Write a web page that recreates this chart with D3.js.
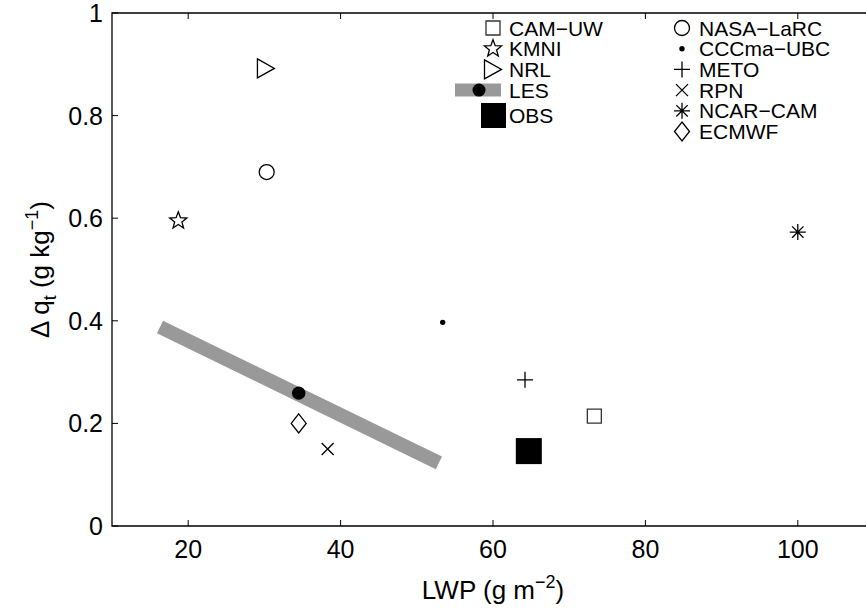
<!DOCTYPE html>
<html>
<head>
<meta charset="utf-8">
<script src="https://cdn.jsdelivr.net/npm/d3@7"></script>
<style>
  body { margin: 0; background: #fff; }
  text { font-family: "Liberation Sans", Arial, Helvetica, sans-serif; fill: #000; }
</style>
</head>
<body>
<div id="vis"></div>
<script>
const FRAME_WIDTH = 866;
const FRAME_HEIGHT = 608;
const MARGINS = {left: 112, right: -8, top: 13, bottom: 82};

// model data
const models = ['CAM\u2212UW', 'KMNI', 'NRL', 'NASA\u2212LaRC', 'CCCma\u2212UBC', 'METO', 'RPN', 'NCAR\u2212CAM', 'ECMWF'];
const symbols = ['square', 'star', 'triangle', 'circle', 'dot', 'plus', 'cross', 'asterisk', 'diamond'];
const lwp = [73.3, 18.7, 30.2, 30.3, 53.4, 64.2, 38.3, 100, 34.5];
const dqt = [0.214, 0.595, 0.892, 0.69, 0.397, 0.285, 0.15, 0.573, 0.20];

// LES range and mean, observations
const lesLwp = [16.3, 52.9];
const lesDqt = [0.388, 0.123];
const lesMean = [34.5, 0.259];
const obs = [64.7, 0.146];

const xTicks = [20, 40, 60, 80, 100];
const yTicks = [0, 0.2, 0.4, 0.6, 0.8, 1];

// legend columns
const legendLeft = ['CAM\u2212UW', 'KMNI', 'NRL'];
const legendRight = ['NASA\u2212LaRC', 'CCCma\u2212UBC', 'METO', 'RPN', 'NCAR\u2212CAM', 'ECMWF'];

const svg = d3.select('#vis')
  .append('svg')
    .attr('width', FRAME_WIDTH)
    .attr('height', FRAME_HEIGHT);

const X_SCALE = d3.scaleLinear().domain([10, 110]).range([MARGINS.left, FRAME_WIDTH - MARGINS.right]);
const Y_SCALE = d3.scaleLinear().domain([0, 1]).range([FRAME_HEIGHT - MARGINS.bottom, MARGINS.top]);

// marker paths centred on 0,0
function markerPath(sym) {
  const p = d3.path();
  if (sym === 'square') {
    p.rect(-7, -7, 14, 14);
  } else if (sym === 'triangle') {
    p.moveTo(-8.5, -9.5); p.lineTo(8.5, 0); p.lineTo(-8.5, 9.5); p.closePath();
  } else if (sym === 'circle') {
    p.arc(0, 0, 7.5, 0, 2 * Math.PI); p.closePath();
  } else if (sym === 'diamond') {
    p.moveTo(0, -9.5); p.lineTo(7.5, 0); p.lineTo(0, 9.5); p.lineTo(-7.5, 0); p.closePath();
  } else if (sym === 'plus') {
    p.moveTo(-8, 0); p.lineTo(8, 0); p.moveTo(0, -8); p.lineTo(0, 8);
  } else if (sym === 'cross') {
    p.moveTo(-6, -6); p.lineTo(6, 6); p.moveTo(-6, 6); p.lineTo(6, -6);
  } else if (sym === 'asterisk') {
    p.moveTo(-8, 0); p.lineTo(8, 0); p.moveTo(0, -8); p.lineTo(0, 8);
    p.moveTo(-5.7, -5.7); p.lineTo(5.7, 5.7); p.moveTo(-5.7, 5.7); p.lineTo(5.7, -5.7);
  } else if (sym === 'star') {
    const ro = 9, ri = 3.8;
    for (let i = 0; i < 10; i++) {
      const r = i % 2 === 0 ? ro : ri;
      const a = -Math.PI / 2 + i * Math.PI / 5;
      if (i === 0) p.moveTo(r * Math.cos(a), r * Math.sin(a));
      else p.lineTo(r * Math.cos(a), r * Math.sin(a));
    }
    p.closePath();
  }
  return p.toString();
}

function drawMarker(g, sym, x, y) {
  if (sym === 'dot') {
    g.append('circle').attr('cx', x).attr('cy', y).attr('r', 2.7).attr('fill', '#000');
    return;
  }
  g.append('path')
    .attr('d', markerPath(sym))
    .attr('transform', 'translate(' + x + ',' + y + ')')
    .attr('fill', 'none')
    .attr('stroke', sym === 'square' ? '#333' : '#000')
    .attr('stroke-width', 1.3);
}

// axes box
const x0 = X_SCALE.range()[0], x1 = X_SCALE.range()[1];
const y0 = Y_SCALE.range()[0], y1 = Y_SCALE.range()[1];
svg.append('path')
  .attr('d', `M${x1},${y1}H${x0}V${y0}H${x1}`)
  .attr('fill', 'none').attr('stroke', '#000').attr('stroke-width', 1.3);

// inward ticks, bottom and top
xTicks.forEach(t => {
  const x = X_SCALE(t);
  svg.append('line').attr('x1', x).attr('x2', x).attr('y1', y0).attr('y2', y0 - 6)
    .attr('stroke', '#000').attr('stroke-width', 1);
  svg.append('line').attr('x1', x).attr('x2', x).attr('y1', y1).attr('y2', y1 + 6)
    .attr('stroke', '#000').attr('stroke-width', 1);
  svg.append('text')
    .attr('x', x).attr('y', y0 + 32)
    .attr('text-anchor', 'middle')
    .attr('font-size', '25px')
    .text(t);
});

yTicks.forEach(t => {
  const y = Y_SCALE(t);
  svg.append('line').attr('x1', x0).attr('x2', x0 + 6).attr('y1', y).attr('y2', y)
    .attr('stroke', '#000').attr('stroke-width', 1);
  svg.append('text')
    .attr('x', x0 - 9).attr('y', y + 9)
    .attr('text-anchor', 'end')
    .attr('font-size', '25px')
    .text(t);
});

// x axis label
const xl = svg.append('text')
  .attr('x', X_SCALE(60)).attr('y', FRAME_HEIGHT - 9)
  .attr('text-anchor', 'middle')
  .attr('font-size', '26px');
xl.append('tspan').text('LWP (g m');
xl.append('tspan').attr('dy', -11).attr('font-size', '18px').text('\u22122');
xl.append('tspan').attr('dy', 11).text(')');

// y axis label
const yl = svg.append('text')
  .attr('transform', 'translate(49,' + Y_SCALE(0.5) + ') rotate(-90)')
  .attr('text-anchor', 'middle')
  .attr('font-size', '26px');
yl.append('tspan').text('\u0394 q');
yl.append('tspan').attr('dy', 7).attr('font-size', '18px').text('t');
yl.append('tspan').attr('dy', -7).text(' (g kg');
yl.append('tspan').attr('dy', -11).attr('font-size', '18px').text('\u22121');
yl.append('tspan').attr('dy', 11).text(')');

// LES range band
svg.append('line')
  .attr('x1', X_SCALE(lesLwp[0])).attr('y1', Y_SCALE(lesDqt[0]))
  .attr('x2', X_SCALE(lesLwp[1])).attr('y2', Y_SCALE(lesDqt[1]))
  .attr('stroke', '#999').attr('stroke-width', 14);
svg.append('circle')
  .attr('cx', X_SCALE(lesMean[0])).attr('cy', Y_SCALE(lesMean[1]))
  .attr('r', 6.7).attr('fill', '#000');

// OBS
svg.append('rect')
  .attr('x', X_SCALE(obs[0]) - 13).attr('y', Y_SCALE(obs[1]) - 13)
  .attr('width', 26).attr('height', 26).attr('fill', '#000');

// model markers
const marks = svg.append('g');
models.forEach((m, i) => drawMarker(marks, symbols[i], X_SCALE(lwp[i]), Y_SCALE(dqt[i])));

// legend
const ROW = 20.7;
const FS = '21px';
const leg = svg.append('g');
legendLeft.forEach((m, i) => {
  const y = 28 + i * ROW;
  drawMarker(leg, symbols[models.indexOf(m)], 493, y);
  leg.append('text').attr('x', 509).attr('y', y + 7.5).attr('font-size', FS).text(m);
});
// LES entry
leg.append('line').attr('x1', 455).attr('x2', 501).attr('y1', 28 + 3 * ROW).attr('y2', 28 + 3 * ROW)
  .attr('stroke', '#999').attr('stroke-width', 13);
leg.append('circle').attr('cx', 479).attr('cy', 28 + 3 * ROW).attr('r', 6.5).attr('fill', '#000');
leg.append('text').attr('x', 509).attr('y', 28 + 3 * ROW + 7.5).attr('font-size', FS).text('LES');
// OBS entry
leg.append('rect').attr('x', 481).attr('y', 103).attr('width', 25).attr('height', 25).attr('fill', '#000');
leg.append('text').attr('x', 509).attr('y', 123).attr('font-size', FS).text('OBS');

legendRight.forEach((m, i) => {
  const y = 28 + i * ROW;
  drawMarker(leg, symbols[models.indexOf(m)], 682, y);
  leg.append('text').attr('x', 699).attr('y', y + 7.5).attr('font-size', FS).text(m);
});
</script>
</body>
</html>
